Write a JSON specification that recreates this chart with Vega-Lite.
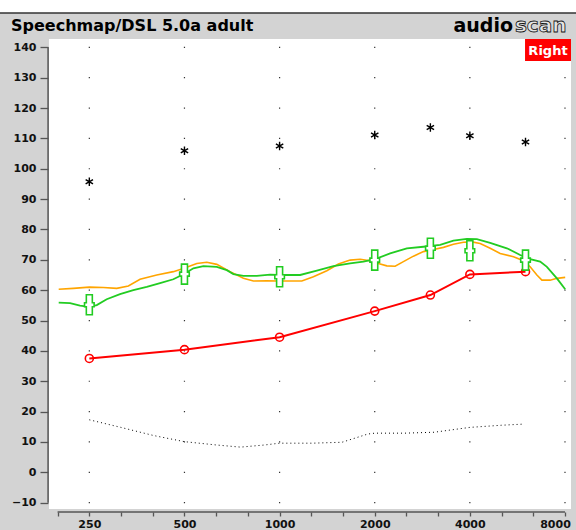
{
  "$schema": "https://vega.github.io/schema/vega-lite/v6.json",
  "width": 576,
  "height": 517,
  "autosize": {"type": "none"},
  "padding": {"top": 13, "left": 0, "right": 0, "bottom": 0},
  "background": "#ffffff",
  "config": {
    "view": {"fill": "#d3d3d3", "stroke": null},
    "axis": {"labelOverlap": false, "labelBound": false, "labelFlush": false}
  },
  "title": {
    "text": "Speechmap/DSL 5.0a adult",
    "anchor": "start",
    "frame": "group",
    "orient": "top",
    "offset": -17,
    "dx": 11,
    "dy": 18,
    "font": "DejaVu Sans",
    "fontSize": 16,
    "fontWeight": "bold",
    "color": "#000000",
    "baseline": "alphabetic"
  },
  "datasets": {
    "octaves": [
      {"f": 250}, {"f": 500}, {"f": 1000}, {"f": 2000}, {"f": 4000}, {"f": 8000}
    ],
    "orange": [
      {"f": 200, "db": 60.3}, {"f": 222.5, "db": 60.6}, {"f": 250, "db": 61.0}, {"f": 276.8, "db": 60.9},
      {"f": 305.3, "db": 60.6}, {"f": 332.2, "db": 61.4}, {"f": 361.8, "db": 63.6}, {"f": 408.6, "db": 65.0},
      {"f": 461.1, "db": 66.1}, {"f": 498.5, "db": 67.2}, {"f": 547, "db": 68.8}, {"f": 588.3, "db": 69.2},
      {"f": 632.8, "db": 68.5}, {"f": 697.1, "db": 66.1}, {"f": 768.1, "db": 63.9}, {"f": 826.3, "db": 63.0},
      {"f": 910.9, "db": 63.1}, {"f": 991, "db": 63.0}, {"f": 1105.8, "db": 63.0}, {"f": 1175.7, "db": 63.0},
      {"f": 1279.4, "db": 64.4}, {"f": 1410.7, "db": 66.4}, {"f": 1535.2, "db": 68.6}, {"f": 1671.7, "db": 69.9},
      {"f": 1798.4, "db": 70.2}, {"f": 1933.8, "db": 69.7}, {"f": 2054, "db": 68.8}, {"f": 2184, "db": 68.0},
      {"f": 2320.5, "db": 67.9}, {"f": 2465, "db": 69.4}, {"f": 2651.5, "db": 71.2}, {"f": 2852.5, "db": 72.7},
      {"f": 3068, "db": 73.4}, {"f": 3300, "db": 74.1}, {"f": 3549, "db": 75.1}, {"f": 3818, "db": 75.8},
      {"f": 4058, "db": 75.9}, {"f": 4312, "db": 75.4}, {"f": 4638, "db": 73.8}, {"f": 4989, "db": 72.1},
      {"f": 5497, "db": 71.0}, {"f": 5912, "db": 69.7}, {"f": 6207, "db": 67.7}, {"f": 6518, "db": 65.0},
      {"f": 6760, "db": 63.3}, {"f": 7182, "db": 63.3}, {"f": 7542, "db": 63.9}, {"f": 8012, "db": 64.2}
    ],
    "green": [
      {"f": 200, "db": 55.9}, {"f": 217.3, "db": 55.7}, {"f": 233.6, "db": 54.9}, {"f": 250, "db": 54.5},
      {"f": 263.9, "db": 55.1}, {"f": 283.8, "db": 57.0}, {"f": 312.7, "db": 58.7}, {"f": 344.5, "db": 60.0},
      {"f": 379.9, "db": 61.1}, {"f": 418.6, "db": 62.3}, {"f": 461.1, "db": 63.6}, {"f": 498.5, "db": 65.3},
      {"f": 533.6, "db": 67.2}, {"f": 573.9, "db": 67.9}, {"f": 632.8, "db": 67.7}, {"f": 680.6, "db": 66.6},
      {"f": 714.1, "db": 65.3}, {"f": 768.1, "db": 64.7}, {"f": 847, "db": 64.7}, {"f": 933.2, "db": 65.1},
      {"f": 991, "db": 65.0}, {"f": 1105.8, "db": 65.0}, {"f": 1161.3, "db": 65.0}, {"f": 1311.7, "db": 66.4},
      {"f": 1480.1, "db": 67.9}, {"f": 1671.7, "db": 68.8}, {"f": 1842, "db": 69.4}, {"f": 2005.8, "db": 70.2},
      {"f": 2237.7, "db": 72.1}, {"f": 2527.5, "db": 73.8}, {"f": 2852.5, "db": 74.3}, {"f": 3221.5, "db": 74.9},
      {"f": 3549, "db": 76.3}, {"f": 3913.8, "db": 76.9}, {"f": 4209, "db": 76.8}, {"f": 4638, "db": 75.6},
      {"f": 5238, "db": 73.8}, {"f": 5772, "db": 71.6}, {"f": 6207, "db": 70.2}, {"f": 6677, "db": 69.4},
      {"f": 7012, "db": 67.7}, {"f": 7542, "db": 63.9}, {"f": 8012, "db": 60.3}
    ],
    "red": [
      {"f": 250, "db": 37.5}, {"f": 500, "db": 40.4}, {"f": 1000, "db": 44.5}, {"f": 2000, "db": 53.1},
      {"f": 3000, "db": 58.4}, {"f": 4000, "db": 65.2}, {"f": 6000, "db": 66.1}
    ],
    "stars": [
      {"f": 250, "db": 95.7}, {"f": 500, "db": 105.9}, {"f": 1000, "db": 107.5}, {"f": 2000, "db": 111.1},
      {"f": 3000, "db": 113.6}, {"f": 4000, "db": 110.9}, {"f": 6000, "db": 108.8}
    ],
    "markers": [
      {"f": 250, "db": 55.2}, {"f": 500, "db": 65.3}, {"f": 1000, "db": 64.4}, {"f": 2000, "db": 69.9},
      {"f": 3000, "db": 73.8}, {"f": 4000, "db": 73.0}, {"f": 6000, "db": 69.9}
    ],
    "noise": [
      {"f": 250, "db": 17.3}, {"f": 314.6, "db": 14.8}, {"f": 400, "db": 12.1}, {"f": 500, "db": 10.1},
      {"f": 631.6, "db": 9.0}, {"f": 752, "db": 8.3}, {"f": 895.8, "db": 9.0}, {"f": 1000, "db": 9.6},
      {"f": 1269.7, "db": 9.6}, {"f": 1575, "db": 9.9}, {"f": 1900, "db": 12.6}, {"f": 2000, "db": 12.9},
      {"f": 2486, "db": 12.9}, {"f": 3083, "db": 13.2}, {"f": 4000, "db": 14.8}, {"f": 5026, "db": 15.5},
      {"f": 5954, "db": 15.9}
    ]
  },
  "layer": [
    {
      "data": {"values": [{}]},
      "mark": {"type": "rect", "fill": "#ffffff"},
      "encoding": {
        "x": {"datum": 186.3, "type": "quantitative", "scale": {"type": "log", "domain": [130.4, 8668], "nice": false}, "title": null},
        "x2": {"datum": 8358},
        "y": {"datum": -12.1, "type": "quantitative", "scale": {"domain": [-19.0, 151.3], "nice": false, "zero": false}, "title": null},
        "y2": {"datum": 142.7}
      }
    },
    {
      "data": {"name": "octaves"},
      "mark": {"type": "rule", "color": "#333333", "strokeWidth": 1.2, "strokeDash": [1.2, 29.158]},
      "encoding": {
        "x": {"field": "f", "type": "quantitative", "scale": {"type": "log", "domain": [130.4, 8668], "nice": false}, "title": null},
        "y": {"datum": -10.2, "type": "quantitative", "scale": {"domain": [-19.0, 151.3], "nice": false, "zero": false}, "title": null},
        "y2": {"datum": 140.3}
      }
    },
    {
      "data": {"values": [{}]},
      "mark": {"type": "rule", "color": "#333333", "strokeWidth": 1.5},
      "encoding": {
        "y": {"datum": 151.3, "type": "quantitative", "scale": {"domain": [-19.0, 151.3], "nice": false, "zero": false}, "title": null}
      }
    },
    {
      "data": {"values": [{}]},
      "mark": {"type": "rect", "fill": "#ff0000"},
      "encoding": {
        "x": {"datum": 5979, "type": "quantitative", "scale": {"type": "log", "domain": [130.4, 8668], "nice": false}, "title": null},
        "x2": {"datum": 8358},
        "y": {"datum": 135.5, "type": "quantitative", "scale": {"domain": [-19.0, 151.3], "nice": false, "zero": false}, "title": null},
        "y2": {"datum": 142.7}
      }
    },
    {
      "data": {"values": [{}]},
      "mark": {"type": "text", "text": "Right", "fill": "#ffffff", "font": "DejaVu Sans", "fontSize": 13, "fontWeight": "bold", "align": "center", "baseline": "alphabetic"},
      "encoding": {
        "x": {"datum": 7068, "type": "quantitative", "scale": {"type": "log", "domain": [130.4, 8668], "nice": false}, "title": null},
        "y": {"datum": 137.4, "type": "quantitative", "scale": {"domain": [-19.0, 151.3], "nice": false, "zero": false}, "title": null}
      }
    },
    {
      "data": {"values": [{}]},
      "mark": {"type": "text", "text": "audio", "fill": "#000000", "font": "DejaVu Sans", "fontSize": 19, "fontWeight": "bold", "align": "right", "baseline": "alphabetic"},
      "encoding": {
        "x": {"datum": 5478, "type": "quantitative", "scale": {"type": "log", "domain": [130.4, 8668], "nice": false}, "title": null},
        "y": {"datum": 144.9, "type": "quantitative", "scale": {"domain": [-19.0, 151.3], "nice": false, "zero": false}, "title": null}
      }
    },
    {
      "data": {"values": [{}]},
      "mark": {"type": "text", "text": "scan", "fill": "#e4e4e4", "stroke": "#111111", "strokeWidth": 0.8, "font": "DejaVu Sans", "fontSize": 20, "fontWeight": "bold", "align": "left", "baseline": "alphabetic"},
      "encoding": {
        "x": {"datum": 5556, "type": "quantitative", "scale": {"type": "log", "domain": [130.4, 8668], "nice": false}, "title": null},
        "y": {"datum": 144.9, "type": "quantitative", "scale": {"domain": [-19.0, 151.3], "nice": false, "zero": false}, "title": null}
      }
    },
    {
      "data": {"values": [{}]},
      "mark": {"type": "rule", "color": "#555555", "strokeWidth": 1.5},
      "encoding": {
        "x": {"datum": 185.1, "type": "quantitative", "scale": {"type": "log", "domain": [130.4, 8668], "nice": false}, "title": null},
        "y": {"datum": -10, "type": "quantitative", "scale": {"domain": [-19.0, 151.3], "nice": false, "zero": false}, "title": null},
        "y2": {"datum": 140}
      }
    },
    {
      "data": {"values": [{}]},
      "mark": {"type": "rule", "color": "#555555", "strokeWidth": 1.5},
      "encoding": {
        "x": {"datum": 198.4, "type": "quantitative", "scale": {"type": "log", "domain": [130.4, 8668], "nice": false}, "title": null},
        "x2": {"datum": 8000},
        "y": {"datum": -13.08, "type": "quantitative", "scale": {"domain": [-19.0, 151.3], "nice": false, "zero": false}, "title": null}
      }
    },
    {
      "data": {"name": "noise"},
      "mark": {"type": "line", "color": "#000000", "strokeWidth": 1, "strokeDash": [1, 3]},
      "encoding": {
        "x": {"field": "f", "type": "quantitative", "scale": {"type": "log", "domain": [130.4, 8668], "nice": false}, "title": null},
        "y": {"field": "db", "type": "quantitative", "scale": {"domain": [-19.0, 151.3], "nice": false, "zero": false}, "title": null}
      }
    },
    {
      "data": {"name": "orange"},
      "mark": {"type": "line", "color": "#ffa500", "strokeWidth": 1.6},
      "encoding": {
        "x": {"field": "f", "type": "quantitative", "scale": {"type": "log", "domain": [130.4, 8668], "nice": false}, "title": null},
        "y": {"field": "db", "type": "quantitative", "scale": {"domain": [-19.0, 151.3], "nice": false, "zero": false}, "title": null}
      }
    },
    {
      "data": {"name": "green"},
      "mark": {"type": "line", "color": "#22cc22", "strokeWidth": 1.8},
      "encoding": {
        "x": {
          "field": "f", "type": "quantitative",
          "scale": {"type": "log", "domain": [130.4, 8668], "nice": false},
          "title": null,
          "axis": {
            "values": [198.4, 250, 315, 397, 500, 630, 794, 1000, 1260, 1587, 2000, 2520, 3175, 4000, 5040, 6350, 8000],
            "tickCount": 40,
            "offset": -18,
            "domain": false,
            "grid": false,
            "tickSize": 4,
            "tickColor": "#555555",
            "tickWidth": 1.3,
            "labelExpr": "indexof([250,500,1000,2000,4000,8000], datum.value) >= 0 ? format(datum.value, 'd') : ''",
            "labelFont": "DejaVu Sans",
            "labelFontWeight": "bold",
            "labelFontSize": 11,
            "labelColor": "#111111",
            "labelPadding": 2,
            "labelOverlap": false,
            "labelFlush": false,
            "labelBound": false,
            "labelOffset": {"condition": {"test": "datum.value == 8000", "value": -10}, "value": 0},
            "title": null
          }
        },
        "y": {
          "field": "db", "type": "quantitative",
          "scale": {"domain": [-19.0, 151.3], "nice": false, "zero": false},
          "title": null,
          "axis": {
            "values": [-10, 0, 10, 20, 30, 40, 50, 60, 70, 80, 90, 100, 110, 120, 130, 140],
            "tickCount": 40,
            "offset": -48,
            "domain": false,
            "grid": false,
            "tickSize": 8,
            "tickColor": "#555555",
            "tickWidth": 1.3,
            "labelFont": "DejaVu Sans",
            "labelFontWeight": "bold",
            "labelFontSize": 11,
            "labelColor": "#111111",
            "labelPadding": 4,
            "labelOverlap": false,
            "labelFlush": false,
            "labelBound": false,
            "title": null
          }
        }
      }
    },
    {
      "data": {"name": "red"},
      "mark": {"type": "line", "color": "#ff0000", "strokeWidth": 2},
      "encoding": {
        "x": {"field": "f", "type": "quantitative", "scale": {"type": "log", "domain": [130.4, 8668], "nice": false}, "title": null},
        "y": {"field": "db", "type": "quantitative", "scale": {"domain": [-19.0, 151.3], "nice": false, "zero": false}, "title": null}
      }
    },
    {
      "data": {"name": "red"},
      "mark": {"type": "point", "shape": "circle", "filled": false, "stroke": "#ff0000", "strokeWidth": 1.6, "size": 64, "opacity": 1},
      "encoding": {
        "x": {"field": "f", "type": "quantitative", "scale": {"type": "log", "domain": [130.4, 8668], "nice": false}, "title": null},
        "y": {"field": "db", "type": "quantitative", "scale": {"domain": [-19.0, 151.3], "nice": false, "zero": false}, "title": null}
      }
    },
    {
      "data": {"name": "markers"},
      "mark": {"type": "point", "shape": "M-0.3,-1L0.3,-1L0.3,-0.2L0.48,-0.2L0.48,0.2L0.3,0.2L0.3,1L-0.3,1L-0.3,0.2L-0.48,0.2L-0.48,-0.2L-0.3,-0.2Z", "filled": true, "fill": "#ffffff", "stroke": "#22cc22", "strokeWidth": 1.6, "size": 400, "opacity": 1},
      "encoding": {
        "x": {"field": "f", "type": "quantitative", "scale": {"type": "log", "domain": [130.4, 8668], "nice": false}, "title": null},
        "y": {"field": "db", "type": "quantitative", "scale": {"domain": [-19.0, 151.3], "nice": false, "zero": false}, "title": null}
      }
    },
    {
      "data": {"name": "stars"},
      "mark": {"type": "point", "shape": "M0,-1L0,1M-0.87,-0.5L0.87,0.5M-0.87,0.5L0.87,-0.5", "filled": false, "stroke": "#000000", "strokeWidth": 1.4, "size": 72, "opacity": 1},
      "encoding": {
        "x": {"field": "f", "type": "quantitative", "scale": {"type": "log", "domain": [130.4, 8668], "nice": false}, "title": null},
        "y": {"field": "db", "type": "quantitative", "scale": {"domain": [-19.0, 151.3], "nice": false, "zero": false}, "title": null}
      }
    }
  ]
}
